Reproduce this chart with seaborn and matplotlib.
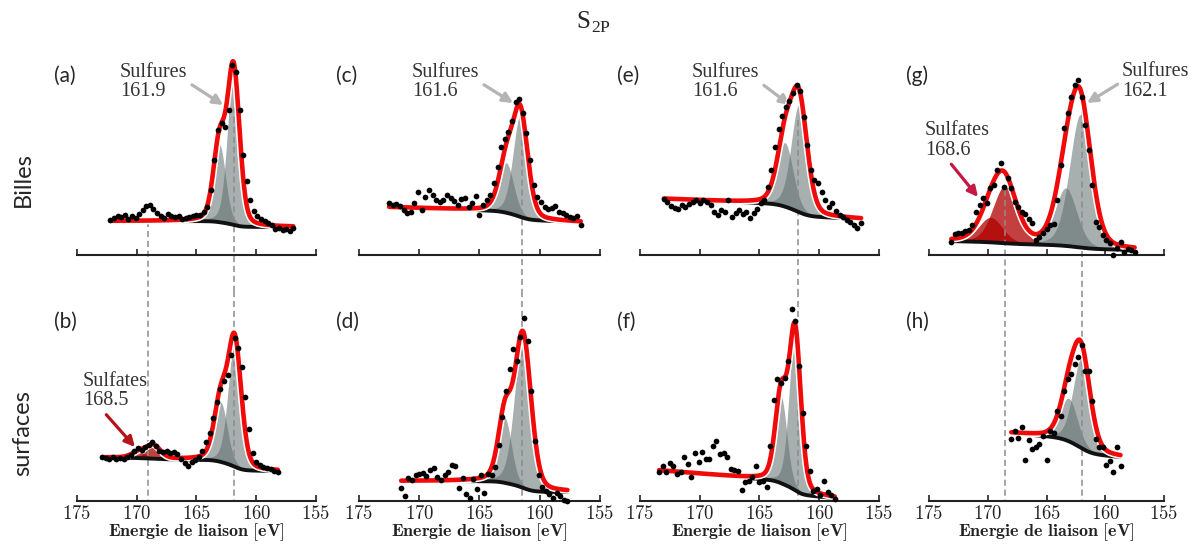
import numpy as np
import seaborn as sns
import matplotlib.pyplot as plt
import matplotlib.patheffects as pe

# ---------------------------------------------------------------
# S2p spectra : measured points (first energy + intensities, a.u.)
# energy step of the acquisition
STEP = 0.3

a_E0 = 172.2
a_I = [3.5, 3.7, 3.9, 3.8, 4.0, 3.6, 3.9, 3.7, 4.1,
       4.5, 4.9, 5.0, 4.6, 4.2,
       3.9, 3.7, 4.1, 3.9, 3.8, 3.9, 3.6, 3.7, 3.8, 3.9, 4.0, 4.0,
       4.3, 4.8, 6.5, 9.5, 12.5, 13.2, 12.8, 14.5, 19.0, 18.3, 14.5, 10.0, 7.4, 5.5,
       4.4, 3.9, 3.6, 3.4, 3.2, 3.0, 2.6, 2.7, 2.5, 2.6, 2.4, 2.7]

b_E0 = 172.9
b_I = [4.4, 4.3, 4.2, 4.4, 4.2, 4.3, 4.2, 4.4, 4.6, 5.0,
       5.3, 5.1, 5.4, 5.6, 5.9, 5.5, 5.0, 4.9, 5.0, 4.8,
       4.9, 4.7, 4.2, 3.8, 3.5, 3.9, 4.1, 4.4, 5.0, 5.9,
       6.8, 8.3, 9.9, 11.2, 12.0, 12.6, 14.6, 16.3, 15.3, 13.4,
       10.4, 7.2, 4.8, 3.9, 3.6, 3.4, 3.3, 3.2, 3.0, 2.9]

c_E0 = 172.5
c_I = [5.2, 5.0, 5.1, 4.9, 4.5, 4.2, 4.3, 5.2, 6.3, 4.5,
       5.8, 6.5, 6.0, 5.5, 5.3, 5.5, 6.0, 5.7, 5.4, 5.0,
       5.6, 5.7, 4.8, 5.2, 5.9, 4.0, 5.0, 5.5, 6.0, 7.2,
       8.8, 10.8, 11.6, 12.3, 13.4, 15.3, 15.6, 14.2, 12.2, 9.5,
       7.0, 5.8, 5.3, 4.8, 4.6, 4.7, 4.9, 4.3, 4.2, 4.0,
       3.8, 3.7, 3.9, 3.0]

d_E0 = 171.5
d_I = [1.3, 0.5, 2.3, 2.1, 2.6, 2.7, 2.8, 2.5, 3.1, 3.3,
       2.4, 2.1, 2.6, 2.9, 3.6, 3.5, 1.3, 2.3, 0.7, 0.3,
       2.2, 1.2, 2.6, 0.8, 2.7, 2.6, 3.4, 5.6, 8.4, 11.0,
       13.2, 15.2, 14.0, 16.4, 18.3, 16.0, 11.0, 6.0, 2.6, 1.4,
       1.0, 0.7, 0.3, 0.8, 0.5, 0.1, 0.0]

e_E0 = 173.0
e_I = [5.6, 5.3, 4.9, 4.7, 4.6, 5.0, 4.8, 5.1, 5.3, 5.5,
       5.2, 5.5, 5.3, 5.0, 4.3, 4.0, 4.5, 4.3, 5.5, 3.8,
       4.2, 4.5, 4.1, 4.3, 3.7, 4.2, 4.6, 5.2, 5.5, 6.8,
       8.5, 10.8, 12.6, 13.9, 14.8, 15.4, 16.2, 17.0, 16.4, 13.8,
       11.0, 8.5, 7.5, 7.2, 6.3, 5.5, 4.8, 5.2, 4.4, 4.0,
       3.8, 3.5, 3.3, 3.0, 2.7, 3.2]

f_E0 = 173.4
f_I = [2.9, 3.5, 2.9, 3.8, 3.5, 2.7, 2.9, 4.4, 3.7, 2.4,
       4.8, 3.9, 4.9, 4.2, 4.2, 5.5, 6.0, 4.7, 4.8, 4.4,
       3.2, 3.1, 3.0, 1.1, 1.9, 2.0, 2.4, 3.5, 1.9, 2.0,
       1.4, 5.5, 10.1, 12.2, 11.8, 12.3, 14.0, 19.2, 18.0, 13.5,
       8.8, 5.5, 3.0, 1.0, 1.2, 0.6, 2.0, 0.9, 0.6, 0.2]

g_E0 = 173.1
g_I = [1.3, 2.1, 2.2, 2.2, 2.4, 2.5, 3.0, 4.3, 5.0, 5.7,
       5.2, 6.7, 7.0, 8.5, 9.2, 6.8, 7.7, 6.7, 5.3, 4.8,
       4.3, 4.1, 3.6, 3.2, 1.5, 1.8, 2.2, 2.6, 3.0, 3.1,
       5.5, 9.0, 12.7, 14.2, 15.8, 17.0, 17.5, 15.8, 13.0, 10.5,
       7.0, 3.3, 2.8, 2.0, 1.5, 1.2, 0.0, 0.7, 1.3, 0.3,
       0.6, 0.5, 0.3]

h_E0 = 168.0
h_I = [6.2, 7.0, 6.3, 7.4, 4.1, 6.1, 5.2, 5.4, 5.7, 6.5,
       4.1, 7.0, 6.8, 9.0, 8.5, 11.0, 12.2, 12.7, 13.7, 14.4,
       15.6, 13.0, 13.0, 10.0, 6.2, 5.4, 5.4, 3.6, 4.0, 2.9,
       5.4, 3.5]

# fitted components: (centre eV, height a.u., fwhm eV)
a_sulfures = [(161.9, 15.5, 1.2), (163.08, 7.8, 1.2)]
b_sulfures = [(161.8, 12.5, 1.3), (162.98, 6.0, 1.3)]
c_sulfures = [(161.6, 10.2, 1.45), (162.78, 5.0, 1.45)]
d_sulfures = [(161.4, 15.3, 1.6), (162.9, 6.5, 1.3)]
e_sulfures = [(161.67, 10.8, 1.6), (162.87, 6.4, 1.6)]
f_sulfures = [(162.03, 15.9, 1.15), (163.2, 8.7, 1.15)]
g_sulfures = [(162.1, 13.3, 2.2), (163.35, 5.8, 2.2)]
h_sulfures = [(162.0, 9.0, 1.75), (163.1, 4.3, 1.75)]

b_sulfates = [(168.6, 1.3, 1.4), (169.8, 0.6, 1.4)]
g_sulfates = [(168.55, 5.7, 2.4), (169.75, 2.5, 2.4)]

# background: (low-energy level, Shirley step, linear slope per eV)
a_bg = (2.8, 0.6, 0.0)
b_bg = (3.0, 1.2, 0.01)
c_bg = (3.3, 0.86, 0.04)
d_bg = (0.9, 1.1, 0.0)
e_bg = (3.6, 1.2, 0.05)
f_bg = (0.3, 1.3, 0.1)
g_bg = (0.5, 0.5, 0.025)
h_bg = (4.4, 1.47, 0.1)

# ---------------------------------------------------------------
W, H = 1194, 546
col_left = [77, 359, 640, 929]
col_width = [239, 241, 239, 235]
row_top = [45, 291]
AX_H = 210
YMAX = 21.0

GREY = "#5f6e6e"
RED_FILL = "#b00000"

sns.set_theme(style="white")
plt.rcParams["mathtext.fontset"] = "cm"
plt.rcParams["font.family"] = ["DejaVu Sans"]


def pvoigt(E, c, h, w, eta=0.25):
    t = (2 * (E - c) / w) ** 2
    return h * ((1 - eta) * np.exp(-np.log(2) * t) + eta / (1 + t))


def draw_panel(ax, E0, I, sulf, sulfa, bg):
    x = E0 - STEP * np.arange(len(I))
    E = np.linspace(x[0], x[-1], 600)
    comps_s = [pvoigt(E, *p) for p in sulf]
    comps_r = [pvoigt(E, *p) for p in sulfa]
    total = np.sum(comps_s + comps_r, axis=0)
    cum = np.cumsum(total[::-1])[::-1]
    cum = cum / cum[0]
    lo, step, slope = bg
    back = lo + step * cum + slope * (E - E[-1])
    for comp in comps_s:
        ax.fill_between(E, back, back + comp, color=GREY, alpha=0.55, lw=0, zorder=1)
    for comp in comps_r:
        ax.fill_between(E, back, back + comp, color=RED_FILL, alpha=0.75, lw=0, zorder=1)
    sns.lineplot(x=E, y=back, color="#111111", lw=2.8, ax=ax, zorder=3,
                 estimator=None, sort=False)
    sns.lineplot(x=E, y=back + total, color="#f00a0a", lw=3.3, ax=ax, zorder=4,
                 estimator=None, sort=False,
                 path_effects=[pe.Stroke(linewidth=5.5, foreground="white"), pe.Normal()])
    sns.scatterplot(x=x, y=I, color="black", s=17, linewidth=0, ax=ax, zorder=5,
                    clip_on=False)


panels = [
    ("(a)", 0, 0, a_E0, a_I, a_sulfures, [], a_bg),
    ("(b)", 0, 1, b_E0, b_I, b_sulfures, b_sulfates, b_bg),
    ("(c)", 1, 0, c_E0, c_I, c_sulfures, [], c_bg),
    ("(d)", 1, 1, d_E0, d_I, d_sulfures, [], d_bg),
    ("(e)", 2, 0, e_E0, e_I, e_sulfures, [], e_bg),
    ("(f)", 2, 1, f_E0, f_I, f_sulfures, [], f_bg),
    ("(g)", 3, 0, g_E0, g_I, g_sulfures, g_sulfates, g_bg),
    ("(h)", 3, 1, h_E0, h_I, h_sulfures, [], h_bg),
]

fig = plt.figure(figsize=(W / 100, H / 100), dpi=100)
axes = {}
for letter, col, row, E0, I, sulf, sulfa, bg in panels:
    l, w, t = col_left[col], col_width[col], row_top[row]
    ax = fig.add_axes([l / W, 1 - (t + AX_H) / H, w / W, AX_H / H])
    ax.patch.set_alpha(0)
    draw_panel(ax, E0, I, sulf, sulfa, bg)
    ax.set_xlim(175, 155)
    ax.set_ylim(0, YMAX)
    ax.set_yticks([])
    ax.set_xticks([175, 170, 165, 160, 155])
    for s in ["left", "top", "right"]:
        ax.spines[s].set_visible(False)
    ax.spines["bottom"].set_color("#222222")
    ax.spines["bottom"].set_linewidth(1.5)
    ax.tick_params(axis="x", bottom=True, direction="in", length=4, width=1.2,
                   color="#222222", pad=2, labelcolor="#222222")
    ax.set_ylabel("")
    if row == 1:
        ax.set_xticklabels([r"$\mathbf{%d}$" % v for v in [175, 170, 165, 160, 155]],
                           fontsize=13.5)
        ax.set_xlabel(r"$\mathbf{Energie\ de\ liaison\ [eV]}$", fontsize=13,
                      labelpad=-1, color="#222222")
    else:
        ax.tick_params(axis="x", labelbottom=False)
        ax.set_xlabel("")
    fig.text((l - 23) / W, 1 - (t + 31) / H, letter, family="Lato", fontsize=15,
             ha="left", va="center")
    axes[(col, row)] = ax

# dashed guides linking the two rows: (column, energy, start height in top panel)
guides = [(0, 161.9, 14.8), (0, 169.1, 3.4), (1, 161.5, 13.5),
          (2, 161.75, 13.5), (3, 168.5, 6.5), (3, 162.0, 14.3)]
gap = (row_top[1] - (row_top[0] + AX_H)) / AX_H * YMAX
for col, e, y0 in guides:
    kw = dict(color="#8c8c8c", lw=1.1, ls=(0, (4, 2.5)), zorder=2, clip_on=False)
    axes[(col, 0)].plot([e, e], [y0, -gap], **kw)
    axes[(col, 1)].plot([e, e], [YMAX, 0], **kw)

# annotations
txt = dict(family="Liberation Serif", fontsize=14.5, color="#333333",
           ha="left", va="center", linespacing=1.05, annotation_clip=False)
grey_arrow = dict(arrowstyle="-|>", color="#b4b4b4", lw=2.3, mutation_scale=15,
                  shrinkA=1, shrinkB=0)
axes[(0, 0)].annotate("Sulfures\n161.9", xy=(162.76, 15.0), xytext=(171.4, 17.3),
                      arrowprops=dict(grey_arrow, relpos=(1, 0.5)), **txt)
axes[(1, 0)].annotate("Sulfures\n161.6", xy=(162.22, 15.2), xytext=(170.6, 17.3),
                      arrowprops=dict(grey_arrow, relpos=(1, 0.5)), **txt)
axes[(2, 0)].annotate("Sulfures\n161.6", xy=(162.45, 15.0), xytext=(170.65, 17.3),
                      arrowprops=dict(grey_arrow, relpos=(1, 0.5)), **txt)
axes[(3, 0)].annotate("Sulfures\n162.1", xy=(161.55, 15.2), xytext=(158.57, 17.35),
                      arrowprops=dict(grey_arrow, relpos=(0, 0.5)), **txt)
axes[(3, 0)].annotate("Sulfates\n168.6", xy=(170.83, 5.8), xytext=(175.34, 11.45),
                      arrowprops=dict(arrowstyle="-|>", color="#c41845", lw=2.3,
                                      mutation_scale=15, shrinkA=1, shrinkB=0,
                                      relpos=(0.35, 0)), **txt)
axes[(0, 1)].annotate("Sulfates\n168.5", xy=(170.15, 5.4), xytext=(174.5, 11.0),
                      arrowprops=dict(arrowstyle="-|>", color="#b3151b", lw=2.3,
                                      mutation_scale=15, shrinkA=1, shrinkB=0,
                                      relpos=(0.3, 0)), **txt)

fig.text(0.497, 1 - 22 / H, r"S$_\mathregular{2P}$", family="Liberation Serif",
         fontsize=18, ha="center", va="center")
fig.text(23 / W, 1 - 180 / H, "Billes", family="Lato", fontsize=17, rotation=90,
         ha="center", va="center")
fig.text(23 / W, 1 - 433 / H, "surfaces", family="Lato", fontsize=17, rotation=90,
         ha="center", va="center")

fig.savefig("out.png", dpi=100)
